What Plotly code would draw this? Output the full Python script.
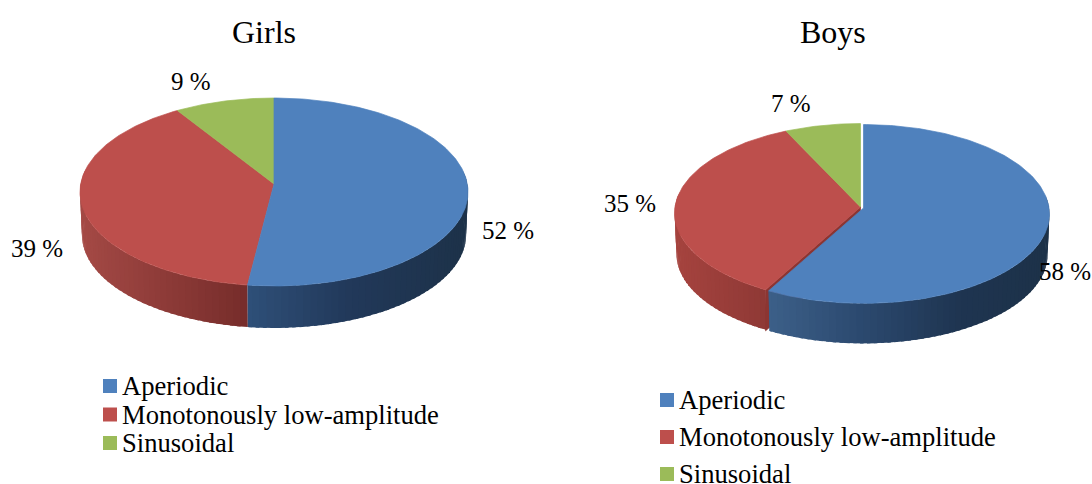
import numpy as np
import plotly.graph_objects as go

categories = ['Aperiodic', 'Monotonously low-amplitude', 'Sinusoidal']
girls_values = [52, 39, 9]
boys_values = [58, 35, 7]
chart_titles = ['Girls', 'Boys']

top_colors = ['#4f81bd', '#bd4f4c', '#9bbb59']
FONT = 'Liberation Serif'


def hex_rgb(c):
    return np.array([int(c[i:i + 2], 16) for i in (1, 3, 5)], dtype=float)


def side_color(stops, x):
    xs = [s[0] for s in stops]
    rgb = [np.interp(x, xs, [hex_rgb(s[1])[i] for s in stops]) for i in range(3)]
    return 'rgb(%d,%d,%d)' % tuple(rgb)


def rim(p, deg, dx=0.0, dy=0.0, lower=False):
    # circle seen in perspective: near edge is a bit larger, apex sits above the ellipse centre
    t = np.radians(deg)
    u, v = np.sin(t), np.cos(t)
    w = 1 + p['k'] * v
    scale = p['bottom_scale'] if lower else 1.0
    x = p['cx'] + dx + p['sx'] * scale * u / w
    y = p['cy'] + dy - p['sy'] * scale * v / w + (p['depth'] if lower else 0)
    return x, y


def add_poly(fig, xs, ys, color, name, width=0.7):
    fig.add_trace(go.Scatter(
        x=xs, y=ys, mode='lines', fill='toself', fillcolor=color,
        line=dict(color=color, width=width), name=name, hoverinfo='name', showlegend=False
    ))


def draw_pie(fig, values, p):
    total = sum(values)
    ends = np.cumsum(values) / total * 360
    starts = np.concatenate([[0], ends[:-1]])
    # everything but the first slice goes first, so a pulled-out slice sits on top
    for i in [1, 2, 0]:
        a, b = starts[i], ends[i]
        dx, dy = p['pull'] if i == 0 else (0, 0)
        stops = p['side'].get(i)
        if stops:
            steps = np.arange(a, b, 2.0).tolist() + [b]
            for s0, s1 in zip(steps[:-1], steps[1:]):
                # back of the wall is hidden, skip it
                if np.cos(np.radians((s0 + s1) / 2)) > 0.15:
                    continue
                # run each strip a little past its end, the next one covers the overlap
                far = min(s1 + 1.0, b)
                x0, y0 = rim(p, s0, dx, dy)
                x1, y1 = rim(p, s1, dx, dy)
                xf, yf = rim(p, far, dx, dy)
                x2, y2 = rim(p, far, dx, dy, lower=True)
                x3, y3 = rim(p, s1, dx, dy, lower=True)
                x4, y4 = rim(p, s0, dx, dy, lower=True)
                add_poly(fig, [x0, x1, xf, x2, x3, x4, x0], [y0, y1, yf, y2, y3, y4, y0],
                         side_color(stops, (x0 + x1) / 2), categories[i], width=0)
        if i == 1 and p['pull'] != (0, 0):
            # cut face left open by the pulled-out slice
            rx, ry = rim(p, a)
            ax, ay = p['cx'], p['cy']
            add_poly(fig, [ax, rx, rx, ax, ax], [ay, ry, ry + p['depth'], ay + p['depth'], ay],
                     p['cut'], categories[i])
        deg = np.arange(a, b, 1.0).tolist() + [b]
        pts = [rim(p, d, dx, dy) for d in deg]
        ax, ay = p['cx'] + dx, p['cy'] + dy
        add_poly(fig, [ax] + [q[0] for q in pts] + [ax], [ay] + [q[1] for q in pts] + [ay],
                 top_colors[i], categories[i])


girls = dict(cx=274, cy=184, sx=193.3, sy=93.3, k=0.085, depth=43, bottom_scale=0.99, pull=(0, 0),
             cut='#8c3532',
             side={0: [(247, '#2f5079'), (350, '#22395a'), (468, '#1d3249')],
                   1: [(80, '#a54a46'), (247, '#772d2b')]})
boys = dict(cx=860.5, cy=207, sx=185.5, sy=89, k=0.0667, depth=41, bottom_scale=0.99, pull=(3, 1),
            cut='#8c3532',
            side={0: [(768, '#3d6089'), (860, '#2c4a70'), (960, '#1f3551'), (1050, '#1d3249')],
                  1: [(675, '#a6443f'), (766, '#8f3936')]})

fig = go.Figure()
draw_pie(fig, girls_values, girls)
draw_pie(fig, boys_values, boys)

# legend blocks
legend_girls_y = [386, 414.5, 443]
legend_boys_y = [400, 437, 474]
for x_sq, ys in [(110, legend_girls_y), (667, legend_boys_y)]:
    fig.add_trace(go.Scatter(
        x=[x_sq] * 3, y=ys, mode='markers', showlegend=False, hoverinfo='skip',
        marker=dict(symbol='square', size=14, color=top_colors, line=dict(width=0))
    ))

annotations = []


def label(x, y, text, size, anchor='center'):
    annotations.append(dict(x=x, y=y, text=text, showarrow=False, xref='x', yref='y',
                            xanchor=anchor, yanchor='middle',
                            font=dict(family=FONT, size=size, color='black')))


for name, x in zip(chart_titles, [264, 833]):
    label(x, 32, name, 32)

girls_pos = [(508, 230), (37, 248), (191, 81)]
boys_pos = [(1065, 271), (630, 203), (791, 103)]
for vals, pos in [(girls_values, girls_pos), (boys_values, boys_pos)]:
    for v, (x, y) in zip(vals, pos):
        label(x, y, f'{v} %', 25)

for x_txt, ys in [(119.5, legend_girls_y), (677, legend_boys_y)]:
    for name, y in zip(categories, ys):
        label(x_txt, y, name, 26.6, anchor='left')

fig.update_layout(
    width=1092,
    height=484,
    margin=dict(l=0, r=0, t=0, b=0),
    paper_bgcolor='white',
    plot_bgcolor='white',
    showlegend=False,
    annotations=annotations,
    xaxis=dict(range=[0, 1092], visible=False, fixedrange=True),
    yaxis=dict(range=[484, 0], visible=False, fixedrange=True),
)

# default page margin would push the chart off the window
fig.write_html("out.html", config=dict(displayModeBar=False),
               post_script="document.body.style.margin='0';document.body.style.overflow='hidden';")
